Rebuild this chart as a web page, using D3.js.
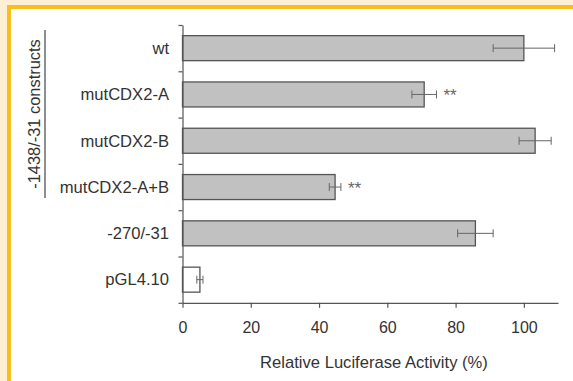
<!DOCTYPE html>
<html>
<head>
<meta charset="utf-8">
<script src="https://cdn.jsdelivr.net/npm/d3@7"></script>
<style>
  body { margin: 0; background: #fff; }
  svg text { font-family: "Liberation Sans", Arial, sans-serif; fill: #333; }
</style>
</head>
<body>
<div id="chart"></div>
<script>
const constructs = ['wt', 'mutCDX2-A', 'mutCDX2-B', 'mutCDX2-A+B', '-270/-31', 'pGL4.10'];
const activity = [100, 70.8, 103.3, 44.7, 85.8, 5.1];
const errors = [9, 3.6, 4.7, 1.7, 5.2, 0.9];
const significance = ['', '**', '', '**', '', ''];
const xTicks = [0, 20, 40, 60, 80, 100];

const width = 573, height = 381;
const svg = d3.select('#chart').append('svg')
    .attr('width', width)
    .attr('height', height);

// frame: beige margin with yellow rule on top and left
svg.append('rect').attr('width', width).attr('height', height).attr('fill', '#fcefd3');
svg.append('rect').attr('x', 7).attr('y', 5).attr('width', width - 7).attr('height', height - 5).attr('fill', '#f6bf1c');
svg.append('rect').attr('x', 11).attr('y', 9).attr('width', width - 11).attr('height', height - 9).attr('fill', '#fff');

const x = d3.scaleLinear().domain([0, 110]).range([182.5, 558]);
const y = d3.scaleBand().domain(constructs).range([25, 302.8])
    .paddingInner(0.46).paddingOuter(0.23);
const yIdx = d3.scaleLinear().domain([0, constructs.length]).range([25, 302.8]);

// bars
const rows = svg.append('g').selectAll('g')
    .data(constructs)
    .enter().append('g');

rows.append('rect')
    .attr('x', x(0))
    .attr('y', d => y(d))
    .attr('width', (d, i) => x(activity[i]) - x(0))
    .attr('height', y.bandwidth())
    .attr('fill', (d, i) => i === constructs.length - 1 ? '#fff' : '#c1c1c1')
    .attr('stroke', '#555')
    .attr('stroke-width', 1.3);

// error bars
const cap = 4;
rows.each((d, i, nodes) => {
    const g = d3.select(nodes[i]);
    const cy = y(d) + y.bandwidth() / 2;
    const x1 = x(activity[i] - errors[i]), x2 = x(activity[i] + errors[i]);
    g.append('line').attr('x1', x1).attr('x2', x2).attr('y1', cy).attr('y2', cy)
        .attr('stroke', '#666').attr('stroke-width', 1);
    [x1, x2].forEach(xx => {
        g.append('line').attr('x1', xx).attr('x2', xx).attr('y1', cy - cap).attr('y2', cy + cap)
            .attr('stroke', '#666').attr('stroke-width', 1);
    });
    if (significance[i]) {
        g.append('text')
            .attr('x', x2 + 7)
            .attr('y', cy + 7)
            .attr('font-size', 17)
            .style('fill', '#666')
            .text(significance[i]);
    }
});

// category labels
svg.append('g').selectAll('text')
    .data(constructs)
    .enter().append('text')
    .attr('x', 169)
    .attr('y', d => y(d) + y.bandwidth() / 2)
    .attr('dy', '0.35em')
    .attr('text-anchor', 'end')
    .attr('font-size', 16.6)
    .text(d => d);

// y axis with ticks between categories
const yAxis = svg.append('g')
    .attr('transform', `translate(${x(0)},0)`)
    .call(d3.axisLeft(yIdx).tickValues(d3.range(constructs.length + 1)).tickFormat('').tickSize(4).tickSizeOuter(0));

// x axis
const xAxis = svg.append('g')
    .attr('transform', `translate(0,${yIdx(constructs.length)})`)
    .call(d3.axisBottom(x).tickValues(xTicks).tickSize(5).tickSizeOuter(0).tickPadding(14));

[yAxis, xAxis].forEach(a => {
    a.selectAll('path, line').attr('stroke', '#555').attr('stroke-width', 1.2);
    a.selectAll('text').attr('font-size', 16).attr('font-family', '"Liberation Sans", Arial, sans-serif').attr('fill', '#333');
});

svg.append('text')
    .attr('x', 374)
    .attr('y', 368)
    .attr('text-anchor', 'middle')
    .attr('font-size', 16.6)
    .text('Relative Luciferase Activity (%)');

// group label for the -1438/-31 constructs
svg.append('text')
    .attr('transform', 'translate(40,114) rotate(-90)')
    .attr('text-anchor', 'middle')
    .attr('font-size', 16.4)
    .text('-1438/-31 constructs');

svg.append('line')
    .attr('x1', 45).attr('x2', 45)
    .attr('y1', 30).attr('y2', 198)
    .attr('stroke', '#444').attr('stroke-width', 1.2);
</script>
</body>
</html>
